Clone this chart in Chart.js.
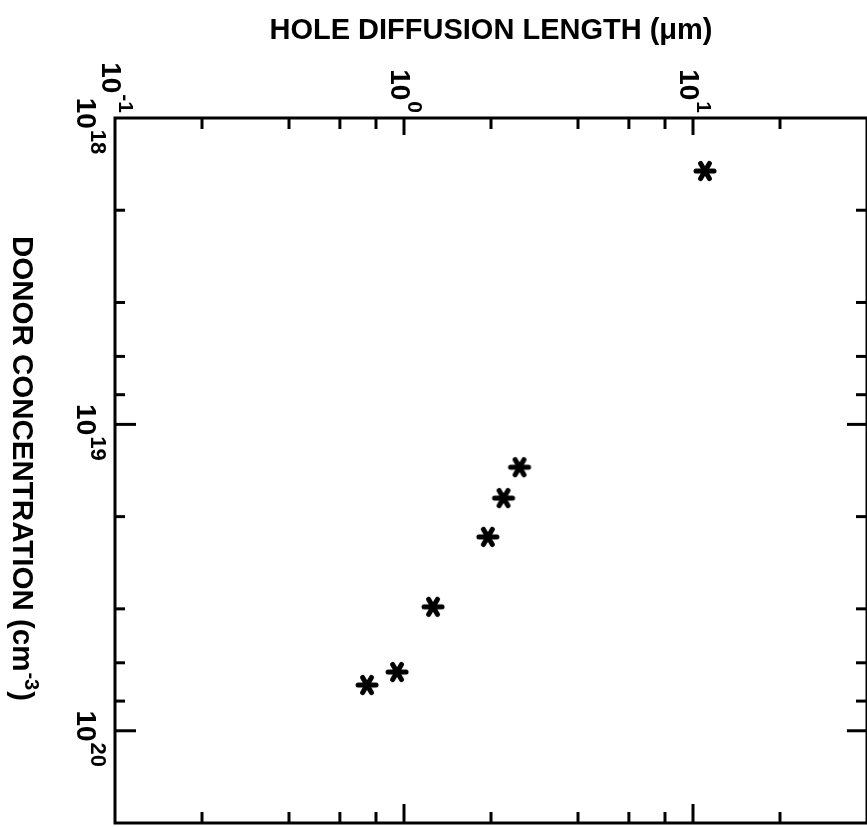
<!DOCTYPE html>
<html><head><meta charset="utf-8">
<script src="https://cdn.jsdelivr.net/npm/chart.js@4"></script>
<style>html,body{margin:0;padding:0;background:#fff;overflow:hidden;width:867px;height:827px}canvas{display:block}</style>
</head><body>
<canvas id="c" width="867" height="827"></canvas>
<script>
// ---- data ----
const diffusionLengthUm = [11.0, 2.51, 2.21, 1.95, 1.26, 0.946, 0.745];
const donorConcentration = [1.49e18, 1.38e19, 1.74e19, 2.33e19, 3.94e19, 6.43e19, 7.09e19];
// ---- axes ----
const xRange = [0.1, 40];
const yRange = [1e18, 2e20];
const xMajorTicks = [0.1, 1, 10];
const xMinorTicks = [0.2, 0.4, 0.6, 0.8, 2, 4, 6, 8, 20];
const yMajorTicks = [1e18, 1e19, 1e20];
const yMinorTicks = [2e18, 4e18, 6e18, 8e18, 2e19, 4e19, 6e19, 8e19];
const xTickLabels = [['10', '-1'], ['10', '0'], ['10', '1']];
const yTickLabels = [['10', '18'], ['10', '19'], ['10', '20']];
const titleText = 'HOLE DIFFUSION LENGTH (\u03BCm)';
const yTitleParts = ['DONOR CONCENTRATION (cm', '-3', ')'];

const FONT = '"Liberation Sans", Arial, sans-serif';

// asterisk marker
function makeStar() {
  const c = document.createElement('canvas');
  c.width = 28; c.height = 28;
  const g = c.getContext('2d');
  g.translate(14, 14);
  g.strokeStyle = '#000';
  g.lineWidth = 5;
  g.lineCap = 'round';
  [0, Math.PI / 3, 2 * Math.PI / 3].forEach(a => {
    const r = a === 0 ? 9 : 8.8;
    g.beginPath();
    g.moveTo(-r * Math.cos(a), -r * Math.sin(a));
    g.lineTo(r * Math.cos(a), r * Math.sin(a));
    g.stroke();
  });
  g.beginPath(); g.arc(0, 0, 4.5, 0, Math.PI * 2); g.fillStyle = '#000'; g.fill();
  return c;
}

function supLabel(ctx, x, y, parts, mainSize, supSize, supOff) {
  ctx.save();
  ctx.translate(x, y);
  ctx.rotate(Math.PI / 2);
  ctx.textAlign = 'left';
  ctx.textBaseline = 'alphabetic';
  ctx.font = 'bold ' + mainSize + 'px ' + FONT;
  ctx.fillText(parts[0], 0, 0);
  const w = ctx.measureText(parts[0]).width;
  ctx.font = 'bold ' + supSize + 'px ' + FONT;
  ctx.fillText(parts[1], w + 1, -supOff);
  ctx.restore();
}
function supLen(ctx, parts, mainSize, supSize) {
  ctx.font = 'bold ' + mainSize + 'px ' + FONT;
  const a = ctx.measureText(parts[0]).width;
  ctx.font = 'bold ' + supSize + 'px ' + FONT;
  return a + 1 + ctx.measureText(parts[1]).width;
}

const framePlugin = {
  id: 'frame',
  afterDraw(chart) {
    const ctx = chart.ctx, a = chart.chartArea;
    const xs = chart.scales.x, ys = chart.scales.y;
    ctx.save();
    ctx.strokeStyle = '#000';
    ctx.fillStyle = '#000';
    ctx.lineWidth = 3;
    ctx.lineCap = 'butt';
    ctx.strokeRect(a.left, a.top, a.right - a.left, a.bottom - a.top);
    const line = (x1, y1, x2, y2) => { ctx.beginPath(); ctx.moveTo(x1, y1); ctx.lineTo(x2, y2); ctx.stroke(); };
    xMinorTicks.concat(xMajorTicks).forEach(v => {
      if (v <= xRange[0]) return;
      const px = xs.getPixelForValue(v);
      const major = xMajorTicks.includes(v);
      line(px, a.top, px, a.top + (major ? 17 : 11));
      line(px, a.bottom, px, a.bottom - (major ? 19 : 11));
    });
    yMinorTicks.concat(yMajorTicks).forEach(v => {
      if (v <= yRange[0]) return;
      const py = ys.getPixelForValue(v);
      const major = yMajorTicks.includes(v);
      line(a.left, py, a.left + (major ? 21 : 10), py);
      line(a.right, py, a.right - (major ? 20 : 11), py);
    });
    // top tick labels
    xMajorTicks.forEach((v, i) => {
      const px = xs.getPixelForValue(v);
      const L = supLen(ctx, xTickLabels[i], 28, 21);
      supLabel(ctx, px - 13, a.top - 5 - L, xTickLabels[i], 28, 21, 17);
    });
    // left tick labels
    yMajorTicks.forEach((v, i) => {
      const py = ys.getPixelForValue(v);
      const L = supLen(ctx, yTickLabels[i], 28, 22);
      supLabel(ctx, 77, py + 8 - L / 2, yTickLabels[i], 28, 22, 14);
    });
    // title
    ctx.font = 'bold 29px ' + FONT;
    ctx.textAlign = 'center';
    ctx.textBaseline = 'alphabetic';
    ctx.fillText(titleText, 491, 39);
    // y title (rotated, reading downwards)
    ctx.save();
    ctx.translate(13, 236);
    ctx.rotate(Math.PI / 2);
    ctx.textAlign = 'left';
    ctx.font = 'bold 29.5px ' + FONT;
    ctx.fillText(yTitleParts[0], 0, 0);
    let w = ctx.measureText(yTitleParts[0]).width + 1;
    ctx.font = 'bold 20px ' + FONT;
    ctx.fillText(yTitleParts[1], w, -12);
    w += ctx.measureText(yTitleParts[1]).width + 1;
    ctx.font = 'bold 29.5px ' + FONT;
    ctx.fillText(yTitleParts[2], w, 0);
    ctx.restore();
    ctx.restore();
  }
};

const points = diffusionLengthUm.map((x, i) => ({ x: x, y: donorConcentration[i] }));

new Chart(document.getElementById('c'), {
  type: 'scatter',
  data: { datasets: [{ data: points, pointStyle: makeStar(), pointRadius: 10, borderColor: '#000', backgroundColor: '#000' }] },
  options: {
    responsive: false,
    devicePixelRatio: 1,
    animation: false,
    layout: { autoPadding: false, padding: { left: 115, top: 118, right: -4, bottom: 4 } },
    plugins: { legend: { display: false }, tooltip: { enabled: false }, title: { display: false } },
    scales: {
      x: { type: 'logarithmic', position: 'top', min: xRange[0], max: xRange[1], display: false },
      y: { type: 'logarithmic', position: 'left', reverse: true, min: yRange[0], max: yRange[1], display: false }
    }
  },
  plugins: [framePlugin]
});
</script>
</body></html>
